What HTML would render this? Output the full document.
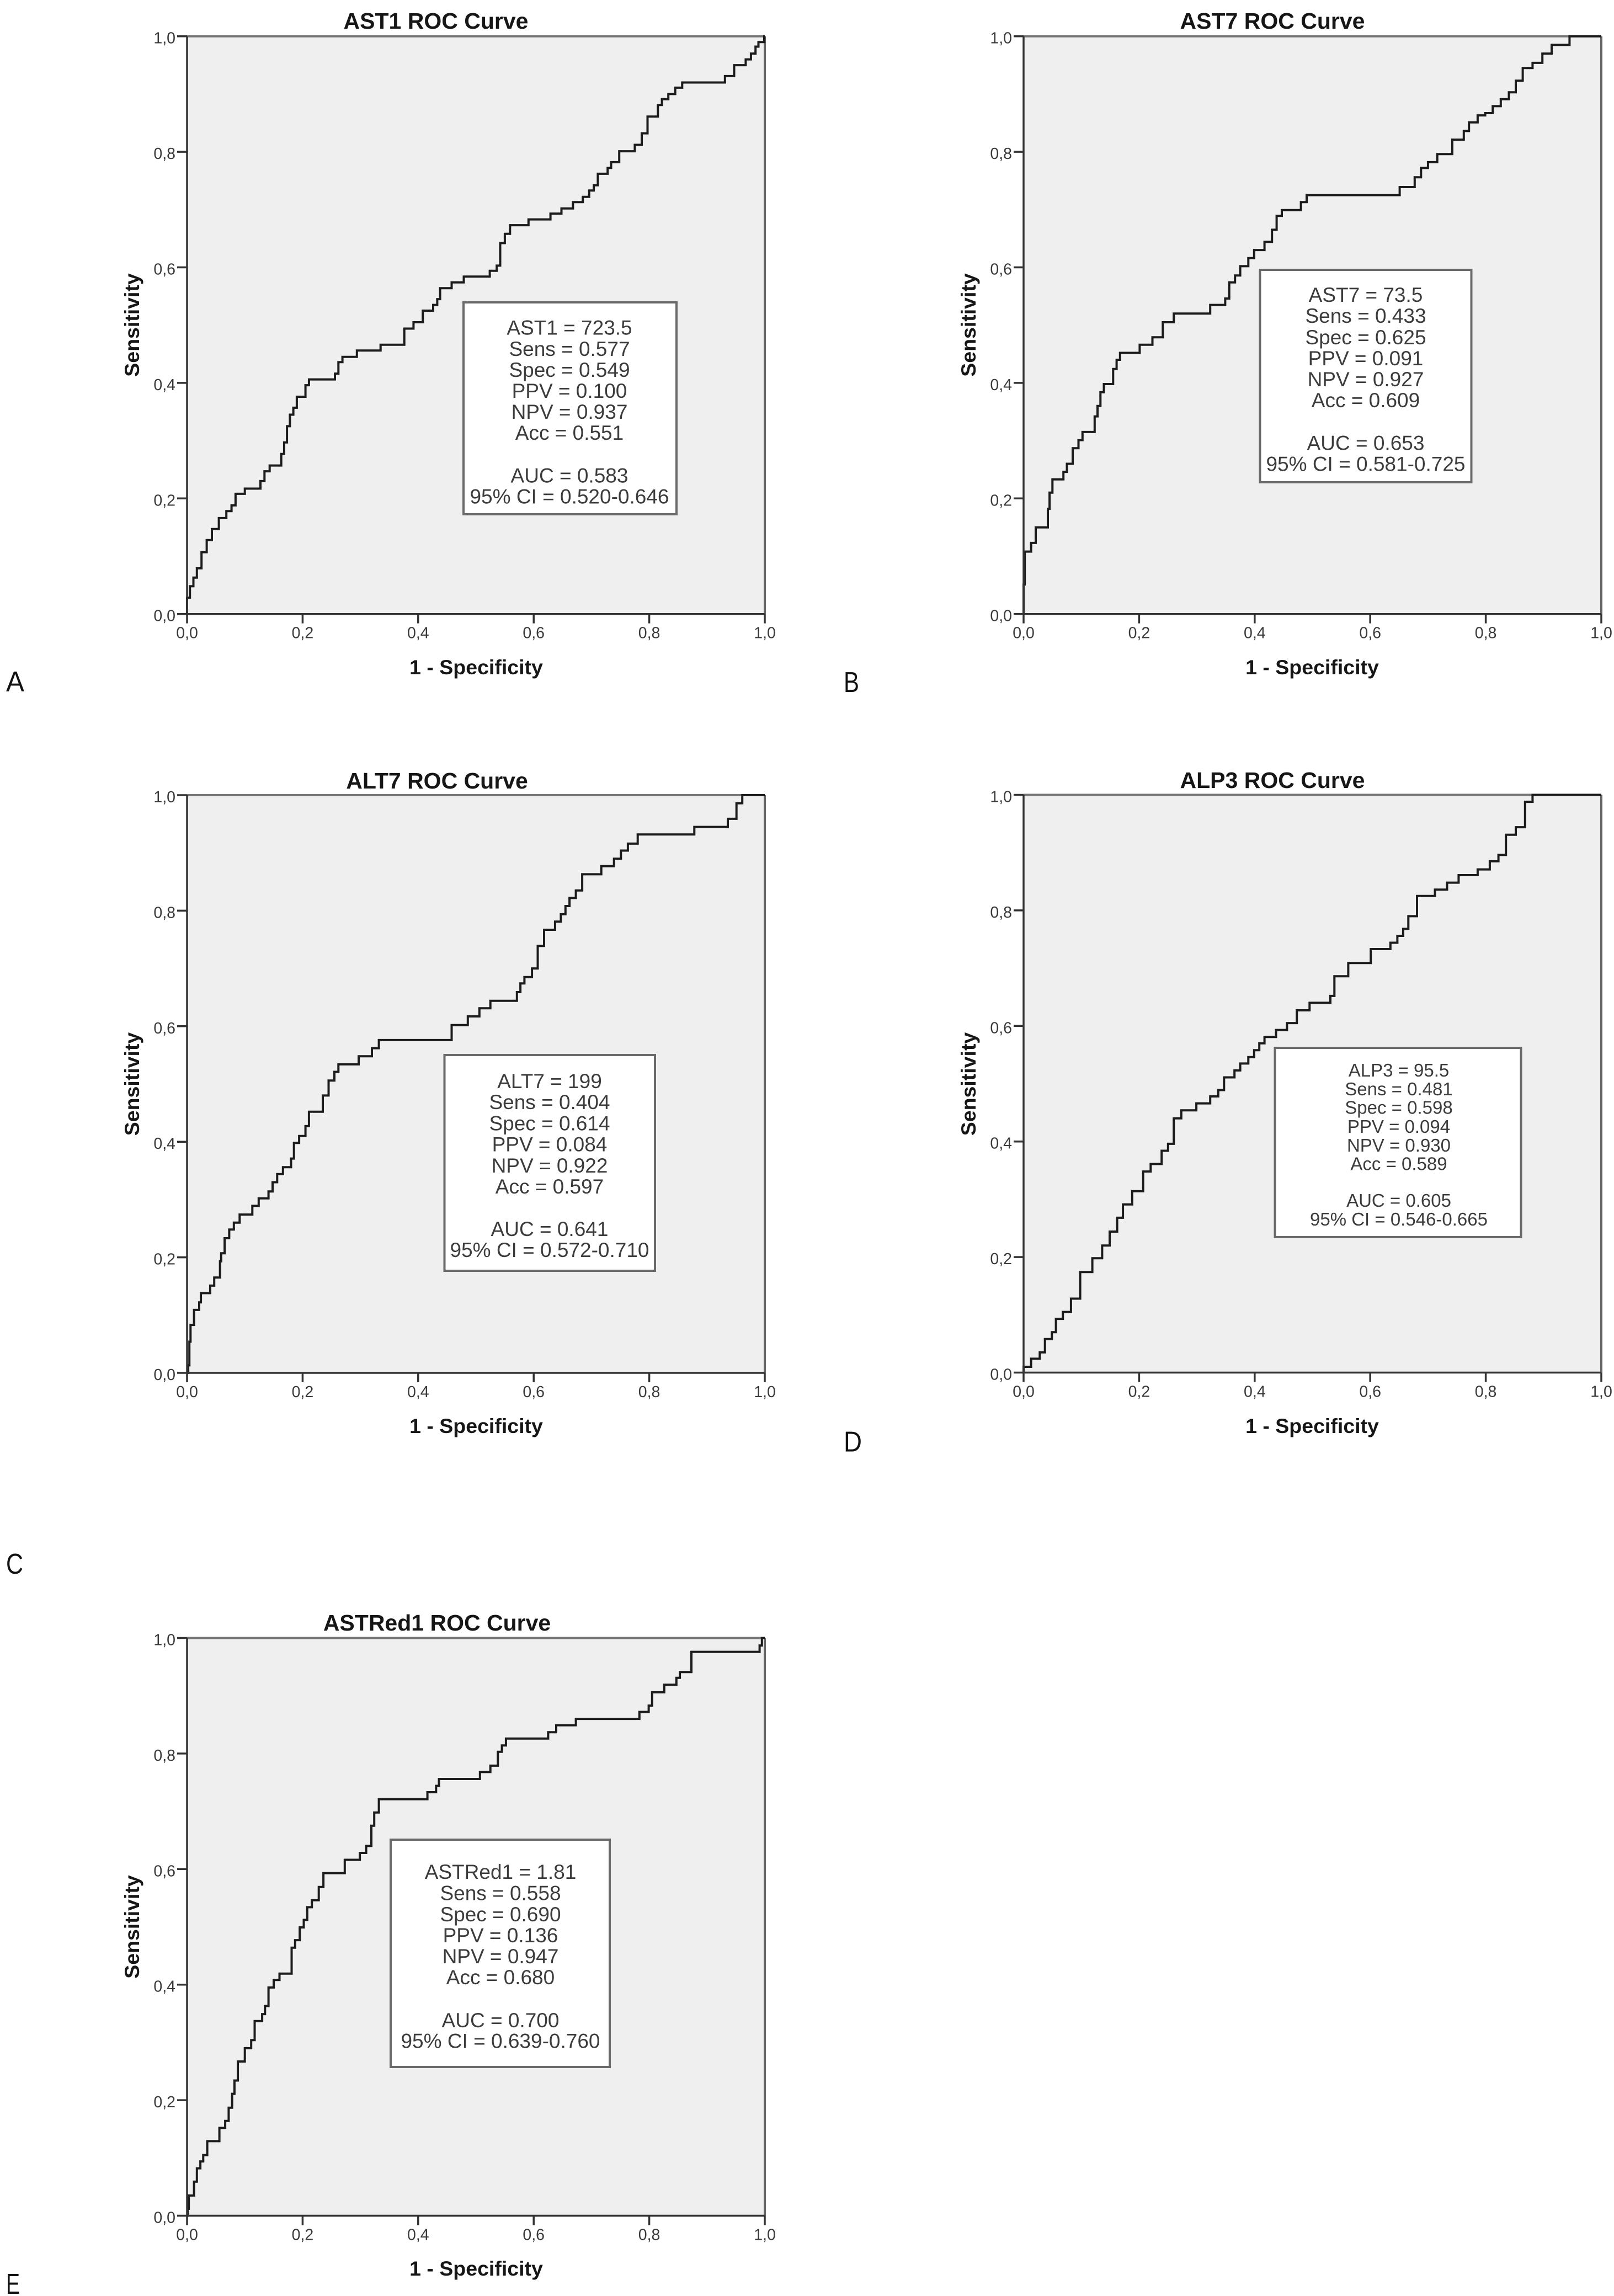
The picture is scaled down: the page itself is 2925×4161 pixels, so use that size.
<!DOCTYPE html>
<html lang="en">
<head>
<meta charset="utf-8">
<title>ROC Curves</title>
<style>
html,body{margin:0;padding:0;background:#fff}
svg{display:block}
text{font-family:"Liberation Sans",sans-serif}
.title{font-size:41px;font-weight:bold;fill:#161616;text-anchor:middle}
.axis-title{font-size:37.5px;font-weight:bold;fill:#161616;text-anchor:middle}
.tick{font-size:28.5px;fill:#3a3a3a}
.box{fill:#fff;stroke:#6a6a6a;stroke-width:4}
.stats{font-size:37px;fill:#3c3c3c;text-anchor:middle}
.stats-small{font-size:33px;fill:#3c3c3c;text-anchor:middle}
.letter{font-size:52px;fill:#111}
</style>
</head>
<body>
<svg id="figure" xmlns="http://www.w3.org/2000/svg" width="2925" height="4161" viewBox="0 0 2925 4161">
<rect x="0" y="0" width="2925" height="4161" fill="#fff"/>

<g>
  <g id="plot-a"></g>
  <text class="title" x="790" y="52">AST1 ROC Curve</text>
  <text class="axis-title" x="863" y="1222">1 - Specificity</text>
  <text class="axis-title" transform="translate(252 589) rotate(-90)">Sensitivity</text>
  <g>
    <rect class="box" x="840" y="548" width="386" height="384"/>
    <text class="stats" x="1032" y="606.5">AST1 = 723.5</text>
    <text class="stats" x="1032" y="645">Sens = 0.577</text>
    <text class="stats" x="1032" y="683">Spec = 0.549</text>
    <text class="stats" x="1032" y="721">PPV = 0.100</text>
    <text class="stats" x="1032" y="759">NPV = 0.937</text>
    <text class="stats" x="1032" y="797">Acc = 0.551</text>
    <text class="stats" x="1032" y="874.5">AUC = 0.583</text>
    <text class="stats" x="1032" y="912.5">95% CI = 0.520-0.646</text>
  </g>
  <text class="letter" x="11" y="1253" textLength="33" lengthAdjust="spacingAndGlyphs">A</text>
</g>

<g>
  <g id="plot-b"></g>
  <text class="title" x="2306" y="52">AST7 ROC Curve</text>
  <text class="axis-title" x="2378" y="1222">1 - Specificity</text>
  <text class="axis-title" transform="translate(1768 589) rotate(-90)">Sensitivity</text>
  <g>
    <rect class="box" x="2283.5" y="489" width="383" height="385"/>
    <text class="stats" x="2475" y="547">AST7 = 73.5</text>
    <text class="stats" x="2475" y="585">Sens = 0.433</text>
    <text class="stats" x="2475" y="624">Spec = 0.625</text>
    <text class="stats" x="2475" y="662">PPV = 0.091</text>
    <text class="stats" x="2475" y="700">NPV = 0.927</text>
    <text class="stats" x="2475" y="738">Acc = 0.609</text>
    <text class="stats" x="2475" y="815.5">AUC = 0.653</text>
    <text class="stats" x="2475" y="853.5">95% CI = 0.581-0.725</text>
  </g>
  <text class="letter" x="1529" y="1254" textLength="28" lengthAdjust="spacingAndGlyphs">B</text>
</g>

<g>
  <g id="plot-c"></g>
  <text class="title" x="792" y="1429">ALT7 ROC Curve</text>
  <text class="axis-title" x="863" y="2597">1 - Specificity</text>
  <text class="axis-title" transform="translate(252 1964.5) rotate(-90)">Sensitivity</text>
  <g>
    <rect class="box" x="805.5" y="1912" width="381.5" height="391"/>
    <text class="stats" x="996" y="1972">ALT7 = 199</text>
    <text class="stats" x="996" y="2010">Sens = 0.404</text>
    <text class="stats" x="996" y="2048.5">Spec = 0.614</text>
    <text class="stats" x="996" y="2086.5">PPV = 0.084</text>
    <text class="stats" x="996" y="2125">NPV = 0.922</text>
    <text class="stats" x="996" y="2163">Acc = 0.597</text>
    <text class="stats" x="996" y="2240">AUC = 0.641</text>
    <text class="stats" x="996" y="2278">95% CI = 0.572-0.710</text>
  </g>
  <text class="letter" x="11" y="2852" textLength="31" lengthAdjust="spacingAndGlyphs">C</text>
</g>

<g>
  <g id="plot-d"></g>
  <text class="title" x="2306" y="1428">ALP3 ROC Curve</text>
  <text class="axis-title" x="2378" y="2597">1 - Specificity</text>
  <text class="axis-title" transform="translate(1768 1964.5) rotate(-90)">Sensitivity</text>
  <g>
    <rect class="box" x="2310.5" y="1899" width="446" height="343"/>
    <text class="stats-small" x="2535" y="1951">ALP3 = 95.5</text>
    <text class="stats-small" x="2535" y="1985">Sens = 0.481</text>
    <text class="stats-small" x="2535" y="2018.5">Spec = 0.598</text>
    <text class="stats-small" x="2535" y="2053">PPV = 0.094</text>
    <text class="stats-small" x="2535" y="2087">NPV = 0.930</text>
    <text class="stats-small" x="2535" y="2120.5">Acc = 0.589</text>
    <text class="stats-small" x="2535" y="2187">AUC = 0.605</text>
    <text class="stats-small" x="2535" y="2221">95% CI = 0.546-0.665</text>
  </g>
  <text class="letter" x="1529" y="2630.5" textLength="33" lengthAdjust="spacingAndGlyphs">D</text>
</g>

<g>
  <g id="plot-e"></g>
  <text class="title" x="792" y="2955">ASTRed1 ROC Curve</text>
  <text class="axis-title" x="863" y="4124">1 - Specificity</text>
  <text class="axis-title" transform="translate(252 3492) rotate(-90)">Sensitivity</text>
  <g>
    <rect class="box" x="708" y="3334" width="397" height="412"/>
    <text class="stats" x="907" y="3405">ASTRed1 = 1.81</text>
    <text class="stats" x="907" y="3443.5">Sens = 0.558</text>
    <text class="stats" x="907" y="3482">Spec = 0.690</text>
    <text class="stats" x="907" y="3520">PPV = 0.136</text>
    <text class="stats" x="907" y="3558">NPV = 0.947</text>
    <text class="stats" x="907" y="3596">Acc = 0.680</text>
    <text class="stats" x="907" y="3674">AUC = 0.700</text>
    <text class="stats" x="907" y="3711.5">95% CI = 0.639-0.760</text>
  </g>
  <text class="letter" x="11" y="4157" textLength="25" lengthAdjust="spacingAndGlyphs">E</text>
</g>
</svg>

<script>
// Axis categories
const tickValues = [0, 0.2, 0.4, 0.6, 0.8, 1];
const tickLabels = ["0,0", "0,2", "0,4", "0,6", "0,8", "1,0"];

// AST1 curve
const ast1Fpr = [0,.005,.011,.017,.025,.034,.043,.055,.068,.077,.084,.100,.127,.134,.143,.163,.168,.173,.178,.184,.190,.205,.211,.256,.262,.269,.294,.335,.376,.392,.408,.426,.433,.438,.458,.479,.524,.536,.542,.550,.559,.591,.629,.648,.668,.685,.696,.704,.711,.728,.734,.748,.775,.787,.797,.815,.822,.833,.845,.857,.931,.947,.967,.976,.984,.989,.999];
const ast1Tpr = [.028,.048,.063,.079,.107,.128,.147,.166,.178,.188,.208,.217,.230,.247,.257,.277,.297,.325,.345,.357,.376,.396,.406,.416,.436,.445,.456,.466,.494,.505,.525,.535,.545,.564,.574,.584,.594,.603,.642,.658,.673,.683,.693,.702,.713,.722,.733,.742,.762,.772,.782,.801,.812,.832,.861,.881,.891,.900,.911,.920,.931,.950,.960,.970,.982,.990,1];

// AST7 curve
const ast7Fpr = [0,.002,.013,.021,.042,.045,.050,.069,.075,.085,.095,.102,.123,.128,.133,.139,.155,.161,.167,.201,.223,.241,.260,.323,.349,.356,.366,.375,.389,.399,.417,.430,.438,.447,.480,.490,.651,.677,.688,.700,.716,.742,.762,.771,.786,.799,.812,.826,.840,.852,.864,.881,.898,.914,.945];
const ast7Tpr = [.051,.108,.123,.150,.182,.210,.233,.246,.260,.287,.301,.315,.342,.360,.384,.398,.424,.440,.452,.466,.479,.505,.520,.535,.546,.574,.586,.602,.616,.630,.644,.665,.689,.699,.713,.725,.739,.756,.772,.782,.796,.821,.836,.851,.863,.867,.879,.891,.903,.923,.945,.954,.970,.985,1];

// ALT7 curve
const alt7Fpr = [.002,.004,.006,.012,.021,.024,.040,.047,.057,.059,.065,.073,.081,.091,.113,.124,.141,.148,.156,.166,.180,.185,.194,.205,.211,.235,.245,.255,.262,.297,.320,.332,.458,.486,.506,.525,.571,.577,.584,.597,.607,.618,.637,.647,.655,.662,.673,.684,.717,.739,.751,.763,.780,.878,.936,.951,.961];
const alt7Tpr = [.013,.054,.083,.109,.122,.138,.151,.165,.193,.207,.233,.248,.260,.274,.289,.302,.314,.330,.344,.356,.371,.398,.410,.427,.452,.480,.506,.521,.534,.548,.562,.576,.602,.617,.631,.644,.659,.674,.685,.700,.739,.767,.781,.794,.808,.822,.835,.863,.877,.890,.904,.916,.932,.945,.959,.986,1];

// ALP3 curve
const alp3Fpr = [0,.013,.028,.037,.049,.056,.068,.082,.098,.119,.136,.149,.162,.172,.188,.207,.220,.239,.250,.260,.273,.299,.323,.337,.347,.365,.375,.389,.399,.408,.417,.437,.456,.473,.495,.531,.538,.562,.601,.635,.647,.657,.666,.681,.712,.733,.753,.786,.807,.822,.835,.852,.868,.881];
const alp3Tpr = [.010,.024,.035,.058,.070,.093,.105,.128,.174,.198,.220,.244,.268,.291,.314,.348,.361,.384,.396,.440,.454,.466,.478,.489,.511,.523,.535,.546,.558,.570,.581,.593,.605,.627,.640,.652,.686,.709,.733,.744,.756,.768,.790,.825,.836,.848,.861,.871,.885,.896,.931,.944,.988,1];

// ASTRed1 curve
const astred1Fpr = [.001,.003,.012,.017,.023,.028,.035,.056,.066,.072,.078,.082,.088,.100,.111,.117,.130,.135,.141,.150,.160,.181,.187,.195,.202,.208,.216,.228,.236,.273,.299,.310,.319,.324,.332,.416,.431,.436,.507,.525,.538,.545,.552,.625,.639,.673,.783,.799,.805,.826,.847,.853,.873,.991,.995];
const astred1Tpr = [.012,.035,.059,.082,.094,.105,.129,.152,.164,.187,.211,.234,.267,.290,.304,.337,.349,.363,.395,.408,.419,.464,.477,.499,.512,.534,.546,.569,.593,.616,.628,.640,.675,.698,.721,.733,.744,.756,.768,.779,.803,.814,.826,.837,.849,.860,.872,.883,.906,.919,.931,.941,.976,.987,1];

const SVG_NS = "http://www.w3.org/2000/svg";
const PLOT_SIZE = 1047;

function makeEl(parent, tag, attrs) {
  const el = document.createElementNS(SVG_NS, tag);
  for (const k in attrs) el.setAttribute(k, attrs[k]);
  parent.appendChild(el);
  return el;
}

function drawPlot(groupId, prefix, left, top, fpr, tpr) {
  const root = document.getElementById(groupId);
  const xScale = v => left + v * PLOT_SIZE;
  const yScale = v => top + PLOT_SIZE - v * PLOT_SIZE;

  const bg = makeEl(root, "rect", {x: xScale(0), y: yScale(1), width: PLOT_SIZE, height: PLOT_SIZE, fill: "#efefef"});
  
  

  const topLine = makeEl(root, "line", {x1: xScale(0), y1: yScale(1), x2: xScale(1), y2: yScale(1), stroke: "#777", "stroke-width": 4});
  
  

  const rightLine = makeEl(root, "line", {x1: xScale(1), y1: yScale(1), x2: xScale(1), y2: yScale(0), stroke: "#666", "stroke-width": 4});
  
  

  // ROC staircase: run across to each x, then rise to its y
  let d = "M" + xScale(0) + " " + yScale(0);
  for (let i = 0; i < fpr.length; i++) {
    d += "H" + xScale(fpr[i]).toFixed(1) + "V" + yScale(tpr[i]).toFixed(1);
  }
  d += "H" + xScale(1) + "V" + yScale(1);
  const curve = makeEl(root, "path", {d: d, fill: "none", stroke: "#1c1c1c", "stroke-width": 4, "stroke-linejoin": "miter"});
  
  

  const xAxis = makeEl(root, "line", {x1: xScale(0), y1: yScale(0), x2: xScale(1), y2: yScale(0), stroke: "#333", "stroke-width": 3.5});
  
  

  const yAxis = makeEl(root, "line", {x1: xScale(0), y1: yScale(0), x2: xScale(0), y2: yScale(1), stroke: "#333", "stroke-width": 3.5});
  
  

  tickValues.forEach((v, i) => {
    const xTick = makeEl(root, "line", {x1: xScale(v), y1: yScale(0), x2: xScale(v), y2: yScale(0) + 17, stroke: "#333", "stroke-width": 3.5});
    
    

    const xLabel = makeEl(root, "text", {x: xScale(v), y: yScale(0) + 44, "text-anchor": "middle", class: "tick"});
    xLabel.textContent = tickLabels[i];
    
    

    const yTick = makeEl(root, "line", {x1: xScale(0) - 18, y1: yScale(v), x2: xScale(0), y2: yScale(v), stroke: "#333", "stroke-width": 3.5});
    
    

    const yLabel = makeEl(root, "text", {x: xScale(0) - 21, y: yScale(v) + 13, "text-anchor": "end", class: "tick"});
    yLabel.textContent = tickLabels[i];
    
    
  });
}

drawPlot("plot-a", "ast1", 339, 65.7, ast1Fpr, ast1Tpr);
drawPlot("plot-b", "ast7", 1855, 65.7, ast7Fpr, ast7Tpr);
drawPlot("plot-c", "alt7", 339, 1441, alt7Fpr, alt7Tpr);
drawPlot("plot-d", "alp3", 1855, 1440.5, alp3Fpr, alp3Tpr);
drawPlot("plot-e", "astred1", 339, 2968.5, astred1Fpr, astred1Tpr);
</script>
</body>
</html>
